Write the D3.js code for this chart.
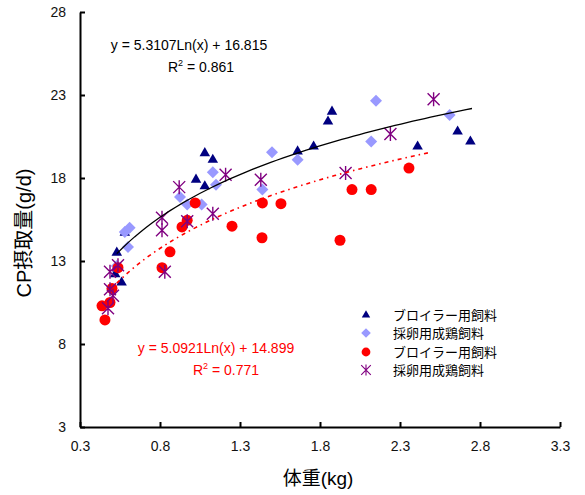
<!DOCTYPE html>
<html>
<head>
<meta charset="utf-8">
<script src="https://cdn.jsdelivr.net/npm/d3@7"></script>
<style>
body { margin: 0; background: #fff; }
text { font-family: "Liberation Sans", Arial, "Noto Sans CJK JP", sans-serif; }
</style>
</head>
<body>
<script>
// broiler feed (triangles)
var broilerA = [
    [0.53, 13.5], [0.58, 14.7], [0.52, 12.2], [0.56, 11.7], [1.025, 17.9],
    [1.08, 19.5], [1.13, 19.1], [1.08, 17.5], [1.66, 19.6], [1.76, 19.9],
    [1.85, 21.4], [1.875, 22.0], [2.41, 19.9], [2.66, 20.8], [2.74, 20.2]
];
// layer feed (diamonds)
var layerA = [
    [0.58, 14.75], [0.61, 15.0], [0.60, 13.85], [0.53, 12.7], [0.925, 16.85],
    [0.97, 16.4], [1.06, 16.4], [1.13, 18.35], [1.15, 17.6], [1.44, 17.3],
    [1.50, 19.55], [1.66, 19.1], [2.12, 20.2], [2.15, 22.65], [2.61, 21.8]
];
// broiler feed (circles)
var broilerB = [
    [0.4375, 10.3], [0.456, 9.45], [0.4875, 10.5], [0.50, 11.35], [0.5375, 12.6],
    [0.8125, 12.6], [0.8625, 13.55], [0.9375, 15.05], [0.97, 15.45], [1.02, 16.5],
    [1.25, 15.1], [1.4375, 14.4], [1.44, 16.5], [1.556, 16.45], [1.925, 14.25],
    [2.0, 17.3], [2.12, 17.3], [2.356, 18.6]
];
// layer feed (asterisks)
var layerB = [
    [0.475, 10.15], [0.4875, 12.35], [0.4875, 11.3], [0.506, 10.9], [0.5375, 12.75],
    [0.8125, 15.6], [0.8125, 14.85], [0.83, 12.35], [0.92, 17.45], [0.97, 15.4],
    [1.13, 15.85], [1.21, 18.2], [1.43, 17.9], [1.96, 18.3], [2.24, 20.65],
    [2.51, 22.75]
];

var xTicks = [0.3, 0.8, 1.3, 1.8, 2.3, 2.8, 3.3];
var yTicks = [3, 8, 13, 18, 23, 28];

// trendlines: y = a*ln(x) + b
var trendA = { a: 5.3107, b: 16.815, from: 0.53, to: 2.75 };
var trendB = { a: 5.0921, b: 14.899, from: 0.53, to: 2.475 };

var legendNames = ["ブロイラー用飼料", "採卵用成鶏飼料", "ブロイラー用飼料", "採卵用成鶏飼料"];

var width = 585, height = 495;
var margin = { top: 12, right: 25, bottom: 68, left: 80 };

var svg = d3.select("body").append("svg")
    .attr("width", width)
    .attr("height", height);

var x = d3.scaleLinear().domain([0.3, 3.3]).range([margin.left, width - margin.right]);
var y = d3.scaleLinear().domain([3, 28]).range([height - margin.bottom, margin.top]);

// axes
var xAxis = svg.append("g")
    .attr("transform", "translate(0," + y(3) + ")")
    .call(d3.axisBottom(x).tickValues(xTicks).tickSizeInner(-5).tickSizeOuter(0).tickPadding(14)
        .tickFormat(d3.format(".1f")));
var yAxis = svg.append("g")
    .attr("transform", "translate(" + x(0.3) + ",0)")
    .call(d3.axisLeft(y).tickValues(yTicks).tickSizeInner(-5).tickSizeOuter(0).tickPadding(14));

[xAxis, yAxis].forEach(function(ax) {
    ax.select(".domain").attr("stroke", "#000").attr("stroke-width", 2);
    ax.selectAll(".tick line").attr("stroke", "#000").attr("stroke-width", 2);
    ax.selectAll(".tick text").attr("font-size", 14).attr("fill", "#111")
        .style("font-family", "'Liberation Sans', Arial, sans-serif");
});

// axis titles
svg.append("text")
    .attr("x", x(1.8) - 2)
    .attr("y", 485)
    .attr("text-anchor", "middle")
    .attr("font-size", 19)
    .text("体重(kg)");
svg.append("text")
    .attr("transform", "translate(31," + 233 + ") rotate(-90)")
    .attr("text-anchor", "middle")
    .attr("font-size", 20)
    .text("CP摂取量(g/d)");

// markers
var sym = {
    tri: function(g) {
        g.append("path").attr("d", d3.symbol().type(d3.symbolTriangle).size(48)())
            .attr("fill", "#000080");
    },
    dia: function(g) {
        g.append("path").attr("d", "M0,-6L6,0L0,6L-6,0Z").attr("fill", "#9999ff");
    },
    dot: function(g) {
        g.append("circle").attr("r", 5.5).attr("fill", "#ff0000");
    },
    star: function(g) {
        g.append("path").attr("d", "M-6,-6L6,6M-6,6L6,-6M0,-7L0,7")
            .attr("stroke", "#800080").attr("stroke-width", 1.4).attr("fill", "none");
    }
};

function drawSeries(data, kind) {
    svg.append("g").selectAll("g")
        .data(data)
        .enter().append("g")
        .attr("transform", function(d) {
            return "translate(" + x(d[0]) + "," + y(d[1]) + ")";
        })
        .each(function() { sym[kind](d3.select(this)); });
}

drawSeries(broilerA, "tri");
drawSeries(layerA, "dia");
drawSeries(broilerB, "dot");
drawSeries(layerB, "star");

// trend lines
function trendPoints(t) {
    return d3.range(0, 61).map(function(i) {
        var xv = t.from + (t.to - t.from) * i / 60;
        return [xv, t.a * Math.log(xv) + t.b];
    });
}
var line = d3.line()
    .x(function(d) { return x(d[0]); })
    .y(function(d) { return y(d[1]); });

svg.append("path")
    .attr("d", line(trendPoints(trendA)))
    .attr("fill", "none")
    .attr("stroke", "#000")
    .attr("stroke-width", 1.3);
svg.append("path")
    .attr("d", line(trendPoints(trendB)))
    .attr("fill", "none")
    .attr("stroke", "#ff0000")
    .attr("stroke-width", 1.6)
    .attr("stroke-dasharray", "4,4,1.5,4");

// equations
svg.append("text").attr("x", 189).attr("y", 50).attr("text-anchor", "middle")
    .attr("font-size", 14).text("y = 5.3107Ln(x) + 16.815");
var r1 = svg.append("text").attr("x", 201).attr("y", 72).attr("text-anchor", "middle")
    .attr("font-size", 14);
r1.append("tspan").text("R");
r1.append("tspan").attr("dy", -6).attr("font-size", 9).text("2");
r1.append("tspan").attr("dy", 6).text(" = 0.861");

svg.append("text").attr("x", 216).attr("y", 353).attr("text-anchor", "middle")
    .attr("font-size", 14).attr("fill", "#ff0000").text("y = 5.0921Ln(x) + 14.899");
var r2 = svg.append("text").attr("x", 226).attr("y", 375).attr("text-anchor", "middle")
    .attr("font-size", 14).attr("fill", "#ff0000");
r2.append("tspan").text("R");
r2.append("tspan").attr("dy", -6).attr("font-size", 9).text("2");
r2.append("tspan").attr("dy", 6).text(" = 0.771");

// legend
var kinds = ["tri", "dia", "dot", "star"];
var legendY = [315, 333, 352, 370];
var legend = svg.append("g").selectAll("g")
    .data(legendNames)
    .enter().append("g")
    .attr("transform", function(d, i) { return "translate(366," + legendY[i] + ")"; });
legend.each(function(d, i) {
    var g = d3.select(this).append("g").attr("transform", "scale(0.8)");
    sym[kinds[i]](g);
});
legend.append("text")
    .attr("x", 27)
    .attr("dy", "0.35em")
    .attr("font-size", 13)
    .style("font-family", "'Noto Sans CJK JP', sans-serif")
    .text(function(d) { return d; });
</script>
</body>
</html>
